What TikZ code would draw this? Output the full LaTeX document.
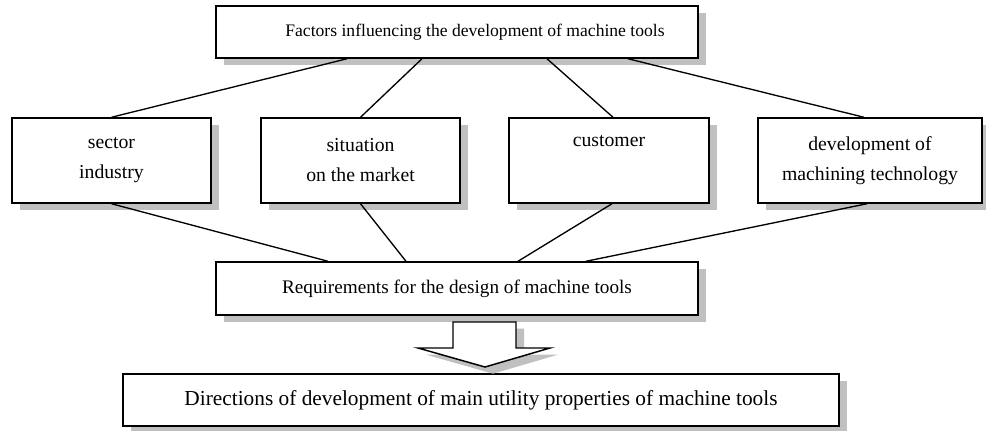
\documentclass[tikz,border=0pt]{standalone}
\usepackage{fontspec}
\setmainfont{Liberation Serif}
\usetikzlibrary{shadows,calc}
\definecolor{shadowgray}{HTML}{C0C0C0}
\begin{document}
\begin{tikzpicture}[x=0.75pt,y=-0.75pt,
  box/.style={draw=black, line width=1.1pt, fill=white, inner sep=0pt, align=center,
    font=\fontsize{14.8}{22.5}\selectfont,
    drop shadow={shadow xshift=6pt, shadow yshift=-5pt, fill=shadowgray, opacity=1}},
  conn/.style={draw=black, line width=1pt},
  blockarrow/.style={draw=black, line width=1.1pt, fill=white,
    drop shadow={shadow xshift=6pt, shadow yshift=-5pt, fill=shadowgray, opacity=1}}]
\useasboundingbox (0,0) rectangle (986,430);

\node[box, minimum width=361.5pt, minimum height=39pt, font=\fontsize{13.2}{16}\selectfont] (top) at (457,32) {\hspace*{27pt}Factors influencing the development of machine tools};

\node[box, minimum width=149.25pt, minimum height=63.75pt] (b1) at (111.5,160.5) {sector\\industry};
\node[box, minimum width=149.25pt, minimum height=63.75pt] (b2) at (360.5,160.5) {situation\\on the market};
\node[box, minimum width=150pt, minimum height=63.75pt] (b3) at (609,160.5) {customer\\\strut};
\node[box, minimum width=168pt, minimum height=63.75pt] (b4) at (870,160.5) {development of\\machining technology};

\node[box, minimum width=361.5pt, minimum height=39.75pt, font=\fontsize{14.4}{17}\selectfont] (req) at (457,288.5) {Requirements for the design of machine tools};

\node[box, minimum width=537pt, minimum height=39pt, font=\fontsize{16}{19}\selectfont] (fin) at (481,400) {Directions of development of main utility properties of machine tools};

\path[blockarrow] (453,322) -- (516,322) -- (516,348) -- (550,348) -- (485,367) -- (418,348) -- (453,348) -- cycle;

\draw[conn] ($(top.south)+(-110,0)$) -- (b1.north);
\draw[conn] ($(top.south)+(-35,0)$) -- (b2.north);
\draw[conn] ($(top.south)+(90,0)$) -- ($(b3.north)+(4,0)$);
\draw[conn] ($(top.south)+(171,0)$) -- ($(b4.north)+(-6,0)$);

\draw[conn] (b1.south) -- ($(req.north)+(-129,0)$);
\draw[conn] (b2.south) -- ($(req.north)+(-51,0)$);
\draw[conn] ($(b3.south)+(3,0)$) -- ($(req.north)+(61,0)$);
\draw[conn] ($(b4.south)+(-3,0)$) -- ($(req.north)+(129,0)$);
\end{tikzpicture}
\end{document}
